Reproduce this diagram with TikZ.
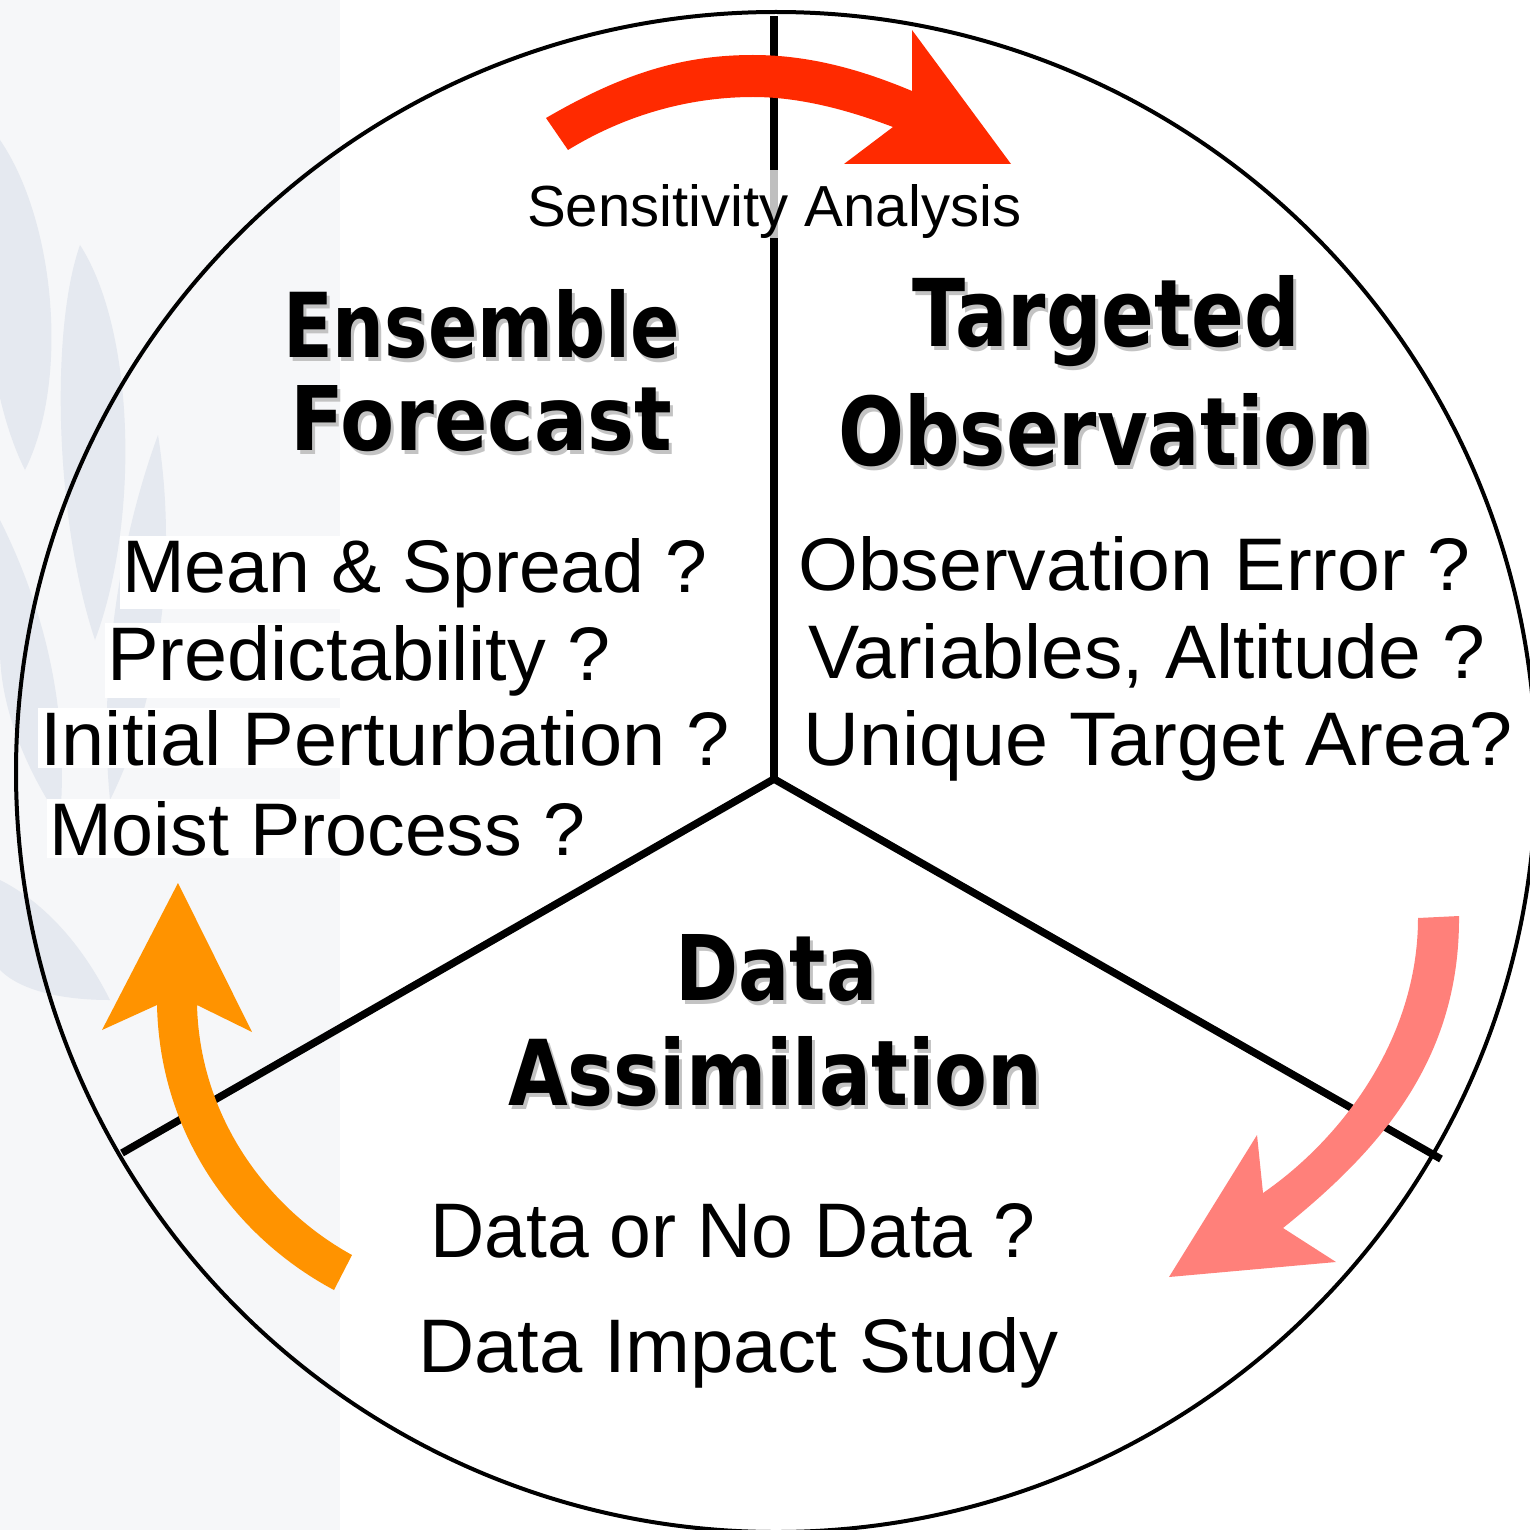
\documentclass[tikz,border=0pt]{standalone}
\usepackage{fontspec}
\usepackage{graphicx}
\newfontfamily\bodyfont{Liberation Sans}
\newfontfamily\headfont{DejaVu Sans}
\definecolor{tint}{RGB}{246,247,249}
\definecolor{leafc}{RGB}{229,233,240}
\definecolor{shadowc}{RGB}{195,195,195}
\definecolor{arrowred}{RGB}{255,42,0}
\definecolor{arrowpink}{RGB}{255,128,122}
\definecolor{arroworange}{RGB}{255,147,0}
\tikzset{
  ring/.style={line width=4pt},
  spoke/.style={line width=7.5pt},
  leaf/.style={fill=leafc},
  txt/.style={anchor=base west, inner sep=0pt, text=black},
  boxed/.style={txt, fill=white, inner sep=2pt},
}
% heading text with a soft drop shadow set behind it in the same box
\newcommand{\shadowed}[3]{%
  \makebox[0pt][l]{\hspace{3pt}\raisebox{-4pt}{\color{shadowc}\resizebox{#1pt}{#2pt}{\headfont\bfseries #3}}}%
  \resizebox{#1pt}{#2pt}{\headfont\bfseries #3}}
% heading: name, left x, baseline y, width, height, text
\newcommand{\headline}[6]{%
  \node[txt] (#1) at (#2,-#3) {\shadowed{#4}{#5}{#6}};
}
% plain text line: name, left x, baseline y, width, height, text, style
\newcommand{\bodyline}[7]{%
  \node[#7] (#1) at (#2,-#3) {\resizebox{#4pt}{#5pt}{\bodyfont #6}};
}
\begin{document}
\begin{tikzpicture}[x=1pt,y=1pt]
\useasboundingbox (0,0) rectangle (1529,-1530);
\fill[white] (0,0) rectangle (1529,-1530);
\fill[tint] (0,0) rectangle (340,-1530);

% faint leaf emblem in the background
\fill[leaf] (0,-140) .. controls (55,-220) and (70,-380) .. (25,-470) .. controls (-20,-380) and (-25,-220) .. (0,-140) -- cycle;
\fill[leaf] (80,-245) .. controls (135,-330) and (140,-520) .. (95,-640) .. controls (55,-520) and (50,-330) .. (80,-245) -- cycle;
\fill[leaf] (158,-435) .. controls (178,-560) and (160,-700) .. (110,-800) .. controls (100,-700) and (112,-560) .. (158,-435) -- cycle;
\fill[leaf] (0,-520) .. controls (40,-600) and (70,-700) .. (60,-820) .. controls (20,-760) and (0,-700) .. (0,-650) -- cycle;
\fill[leaf] (0,-880) .. controls (40,-900) and (80,-940) .. (110,-1000) .. controls (60,-1000) and (20,-990) .. (0,-970) -- cycle;

% outer circle and the three dividing spokes
\draw[ring] (776,-772) circle[radius=760];
\coordinate (hub) at (774,-779);
\coordinate (topend) at (774,-16);
\coordinate (leftend) at (122,-1153);
\coordinate (rightend) at (1441,-1159);
\draw[spoke] (hub) -- (topend);
\draw[spoke] (hub) -- (leftend);
\draw[spoke] (hub) -- (rightend);
\coordinate (gapa) at (774,-170);
\coordinate (gapb) at (774,-238);
\draw[line width=7.5pt, black!25] (gapa) -- (gapb);

% curved cycle arrows
\fill[arrowred] (546,-118) .. controls (620,-75) and (680,-55) .. (753,-55)
  .. controls (810,-55) and (862,-70) .. (912,-91) -- (912,-30) -- (1011,-164) -- (844,-164) -- (893,-127)
  .. controls (848,-110) and (800,-97) .. (753,-97)
  .. controls (695,-97) and (630,-112) .. (568,-150) -- cycle;
\fill[arrowpink] (1418,-918) -- (1459,-916) .. controls (1460,-1060) and (1380,-1150) .. (1283,-1228)
  -- (1336,-1262) -- (1169,-1277) -- (1257,-1135) -- (1263,-1193)
  .. controls (1340,-1140) and (1418,-1040) .. (1418,-918) -- cycle;
\fill[arroworange] (157,-1005) -- (102,-1030) -- (178,-883) -- (252,-1032) -- (197,-1005)
  .. controls (200,-1120) and (270,-1210) .. (352,-1255) -- (334,-1290)
  .. controls (240,-1240) and (160,-1140) .. (157,-1005) -- cycle;

% labels
\bodyline{sens}{527}{227}{494}{42}{Sensitivity Analysis}{txt}

\headline{ens}{283}{357}{397}{68}{Ensemble}
\headline{fcst}{290}{450}{382}{65}{Forecast}
\headline{targ}{912}{346}{388}{71}{Targeted}
\headline{obs}{838}{465}{534}{72}{Observation}
\headline{data}{675}{1000}{202}{66}{Data}
\headline{assim}{508}{1105}{534}{69}{Assimilation}

\bodyline{mean}{120}{592}{585}{54}{Mean \& Spread ?}{boxed}
\bodyline{pred}{105}{680}{503}{55}{Predictability ?}{boxed}
\bodyline{init}{38}{765}{690}{55}{Initial Perturbation ?}{boxed}
\bodyline{moist}{47}{855}{536}{54}{Moist Process ?}{boxed}

\bodyline{oerr}{798}{590}{672}{54}{Observation Error ?}{txt}
\bodyline{vars}{808}{678}{677}{55}{Variables, Altitude ?}{txt}
\bodyline{uniq}{803}{765}{709}{55}{Unique Target Area?}{txt}

\bodyline{nodata}{430}{1257}{605}{54}{Data or No Data ?}{txt}
\bodyline{impact}{418}{1372}{640}{55}{Data Impact Study}{txt}
\end{tikzpicture}
\end{document}
